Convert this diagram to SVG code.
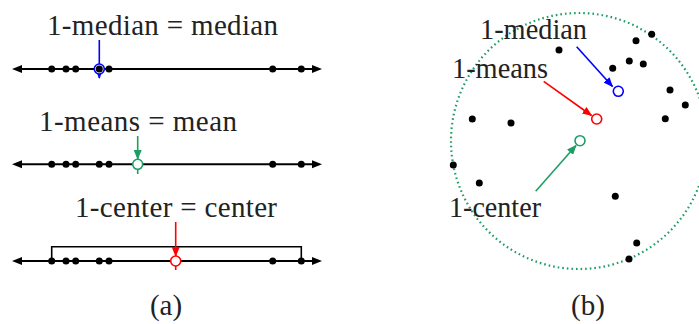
<svg xmlns="http://www.w3.org/2000/svg" width="699" height="324" viewBox="0 0 699 324">
<style>
.t{font-family:"Liberation Serif","Times New Roman",serif;font-size:29px;fill:#222}
.axis{stroke:#000;stroke-width:2;fill:none}
.pt{fill:#000}
.ring{fill:#fff;stroke-width:1.6}
</style>
<defs>
<marker id="ab" markerWidth="10" markerHeight="8" refX="9" refY="4" orient="auto" markerUnits="userSpaceOnUse"><path d="M0,0 L10,4 L0,8 Z" fill="#0000ff"/></marker>
<marker id="ar" markerWidth="10" markerHeight="8" refX="9" refY="4" orient="auto" markerUnits="userSpaceOnUse"><path d="M0,0 L10,4 L0,8 Z" fill="#ff0000"/></marker>
<marker id="ag" markerWidth="10" markerHeight="8" refX="9" refY="4" orient="auto" markerUnits="userSpaceOnUse"><path d="M0,0 L10,4 L0,8 Z" fill="#1e9e64"/></marker>
</defs>
<rect width="699" height="324" fill="#fff"/>

<!-- Panel (a) -->
<g id="line-median">
<text class="t" x="47" y="35" textLength="231" lengthAdjust="spacing">1-median = median</text>
<line class="axis" x1="22" y1="69" x2="312" y2="69"/>
<path d="M12,69 L22,65 L22,73 Z" fill="#000"/>
<path d="M322,69 L312,65 L312,73 Z" fill="#000"/>
<line x1="99.3" y1="40" x2="99.3" y2="78" stroke="#0000ff" stroke-width="1.6" marker-end="url(#ab)"/>
<circle cx="99.3" cy="69" r="5" fill="#fff" stroke="#0000ff" stroke-width="1.6"/>
<circle class="pt" cx="51.7" cy="69" r="3.5"/><circle class="pt" cx="66" cy="69" r="3.5"/><circle class="pt" cx="75.7" cy="69" r="3.5"/><circle class="pt" cx="99.3" cy="69" r="3.5"/><circle class="pt" cx="109" cy="69" r="3.5"/><circle class="pt" cx="272.7" cy="69" r="3.5"/><circle class="pt" cx="301.3" cy="69" r="3.5"/>
</g>

<g id="line-mean">
<text class="t" x="39" y="131" textLength="198" lengthAdjust="spacing">1-means = mean</text>
<line class="axis" x1="22" y1="164.3" x2="312" y2="164.3"/>
<path d="M12,164.3 L22,160.3 L22,168.3 Z" fill="#000"/>
<path d="M322,164.3 L312,160.3 L312,168.3 Z" fill="#000"/>
<line x1="137.7" y1="136" x2="137.7" y2="159" stroke="#1e9e64" stroke-width="1.6" marker-end="url(#ag)"/>
<line x1="137.7" y1="164" x2="137.7" y2="174" stroke="#1e9e64" stroke-width="1.6"/>
<circle class="pt" cx="51.7" cy="164.3" r="3.5"/><circle class="pt" cx="66" cy="164.3" r="3.5"/><circle class="pt" cx="75.7" cy="164.3" r="3.5"/><circle class="pt" cx="99.3" cy="164.3" r="3.5"/><circle class="pt" cx="109" cy="164.3" r="3.5"/><circle class="pt" cx="272.7" cy="164.3" r="3.5"/><circle class="pt" cx="301.3" cy="164.3" r="3.5"/>
<circle class="ring" cx="137.7" cy="164.3" r="5" stroke="#1e9e64"/>
</g>

<g id="line-center">
<text class="t" x="75" y="217" textLength="202" lengthAdjust="spacing">1-center = center</text>
<path d="M51.7,261 V246.7 H301.3 V261" stroke="#000" stroke-width="1.6" fill="none"/>
<line class="axis" x1="22" y1="261" x2="312" y2="261"/>
<path d="M12,261 L22,257 L22,265 Z" fill="#000"/>
<path d="M322,261 L312,257 L312,265 Z" fill="#000"/>
<line x1="175.7" y1="222" x2="175.7" y2="256" stroke="#ff0000" stroke-width="1.6" marker-end="url(#ar)"/>
<line x1="175.7" y1="261" x2="175.7" y2="270" stroke="#ff0000" stroke-width="1.6"/>
<circle class="pt" cx="51.7" cy="261" r="3.5"/><circle class="pt" cx="66" cy="261" r="3.5"/><circle class="pt" cx="75.7" cy="261" r="3.5"/><circle class="pt" cx="99.3" cy="261" r="3.5"/><circle class="pt" cx="109" cy="261" r="3.5"/><circle class="pt" cx="272.7" cy="261" r="3.5"/><circle class="pt" cx="301.3" cy="261" r="3.5"/>
<circle class="ring" cx="175.7" cy="261" r="5" stroke="#ff0000"/>
</g>

<text class="t" x="166" y="315" text-anchor="middle">(a)</text>

<!-- Panel (b) -->
<g id="enclosing-circle">
<circle cx="579" cy="141" r="128" fill="none" stroke="#1e9e64" stroke-width="2.2" stroke-dasharray="1.6 3"/>
</g>
<g id="points-b">
<circle class="pt" cx="559" cy="50" r="3.5"/><circle class="pt" cx="636" cy="40.7" r="3.5"/><circle class="pt" cx="651.7" cy="34.3" r="3.5"/><circle class="pt" cx="612.7" cy="68.3" r="3.5"/><circle class="pt" cx="629.3" cy="61" r="3.5"/><circle class="pt" cx="643.3" cy="64" r="3.5"/><circle class="pt" cx="670" cy="90" r="3.5"/><circle class="pt" cx="685.3" cy="105" r="3.5"/><circle class="pt" cx="665.3" cy="118.7" r="3.5"/><circle class="pt" cx="472.3" cy="119" r="3.5"/><circle class="pt" cx="511" cy="123" r="3.5"/><circle class="pt" cx="453.3" cy="165" r="3.5"/><circle class="pt" cx="479.3" cy="183" r="3.5"/><circle class="pt" cx="615.3" cy="196.3" r="3.5"/><circle class="pt" cx="636.7" cy="243" r="3.5"/><circle class="pt" cx="629" cy="259" r="3.5"/>
</g>
<g id="connectors">
<line x1="576.7" y1="46.7" x2="612.5" y2="86.5" stroke="#0000ff" stroke-width="1.6" marker-end="url(#ab)"/>
<line x1="543.7" y1="81.3" x2="591.5" y2="115.5" stroke="#ff0000" stroke-width="1.6" marker-end="url(#ar)"/>
<line x1="535.7" y1="191.3" x2="576" y2="145.5" stroke="#1e9e64" stroke-width="1.6" marker-end="url(#ag)"/>
</g>
<g id="median-b"><circle class="ring" cx="618.3" cy="91.3" r="5" stroke="#0000ff"/><text class="t" x="480" y="39" textLength="107" lengthAdjust="spacingAndGlyphs">1-median</text></g>
<g id="means-b"><circle class="ring" cx="596.7" cy="119" r="5" stroke="#ff0000"/><text class="t" x="452" y="78" textLength="96" lengthAdjust="spacingAndGlyphs">1-means</text></g>
<g id="center-b"><circle class="ring" cx="580" cy="140.7" r="5" stroke="#1e9e64"/><text class="t" x="449" y="217" textLength="92" lengthAdjust="spacingAndGlyphs">1-center</text></g>

<text class="t" x="588" y="315" text-anchor="middle">(b)</text>
</svg>
